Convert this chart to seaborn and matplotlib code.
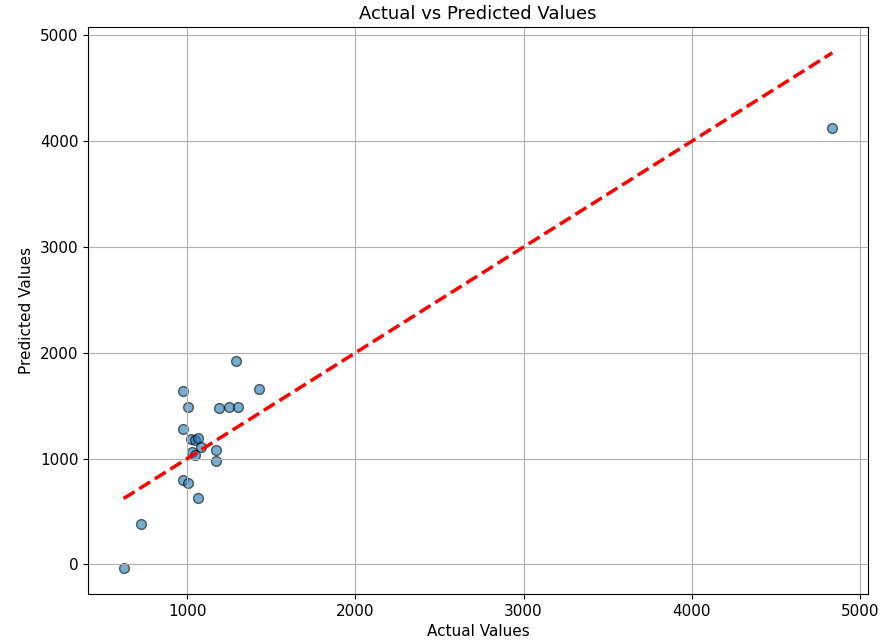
import numpy as np
import pandas as pd
import seaborn as sns
import matplotlib
matplotlib.use("Agg")
import matplotlib.pyplot as plt

actual = [1289, 1429, 972, 1004, 1190, 1251, 1303, 976, 1024, 1045, 1063,
          1083, 1170, 1028, 1049, 1170, 974, 1002, 1067, 727, 622, 4836]
predicted = [1922, 1662, 1643, 1484, 1478, 1484, 1484, 1284, 1183, 1177, 1199,
             1110, 1079, 1060, 1030, 980, 795, 765, 624, 381, -38, 4125]

df = pd.DataFrame({"Actual": actual, "Predicted": predicted})

plt.rcParams["font.size"] = 11
fig = plt.figure(figsize=(8.91, 6.43), dpi=100)
ax = fig.add_axes([0.099, 0.076, 0.875, 0.882])
sns.scatterplot(data=df, x="Actual", y="Predicted", alpha=0.6,
                edgecolor="k", s=50, linewidth=1, ax=ax)
lo, hi = min(actual), max(actual)
ax.plot([lo, hi], [lo, hi], "r--", lw=2.5)
ax.set_xlabel("Actual Values")
ax.set_ylabel("Predicted Values")
ax.set_title("Actual vs Predicted Values", fontsize=13)
ax.grid(True)
fig.savefig("out.png", dpi=100)
